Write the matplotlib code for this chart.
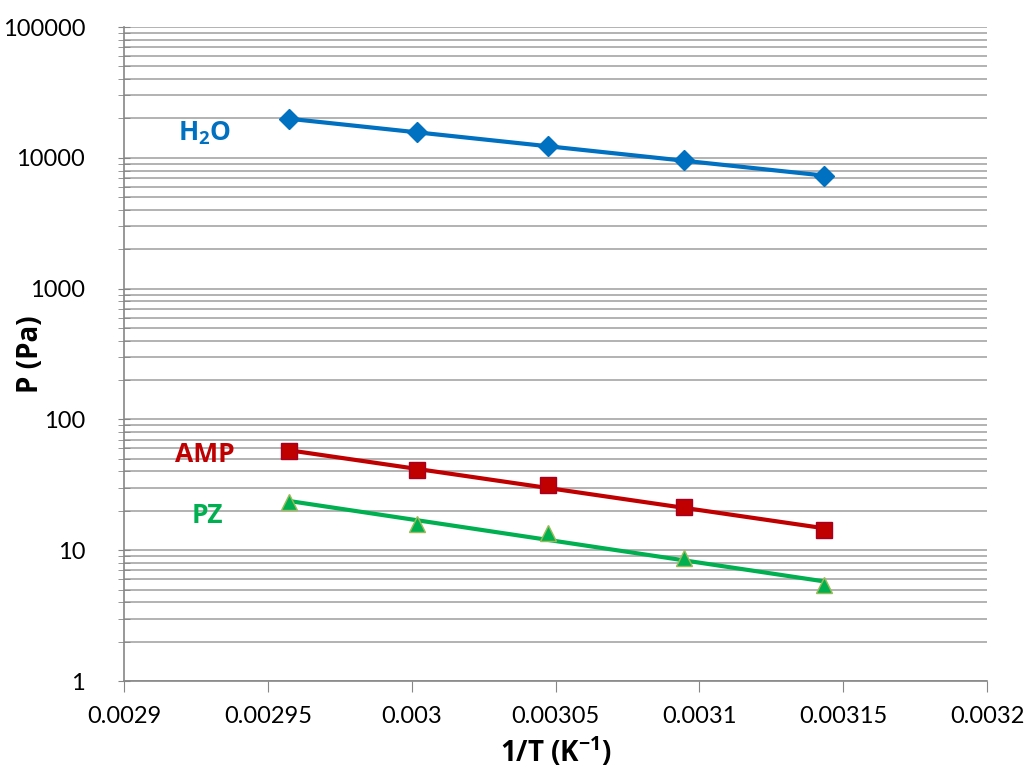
import numpy as np
import matplotlib
matplotlib.use('Agg')
import matplotlib.pyplot as plt
from matplotlib.ticker import FuncFormatter, LogLocator, FixedLocator

plt.rcParams['font.family'] = ['Lato', 'DejaVu Sans']
plt.rcParams['mathtext.fontset'] = 'custom'
plt.rcParams['mathtext.rm'] = 'Open Sans'
plt.rcParams['mathtext.bf'] = 'Open Sans:bold'
BOLD = ['Open Sans', 'DejaVu Sans']

# inverse temperature (1/K) for 65, 60, 55, 50, 45 degC
inv_T = [0.0029573, 0.0030017, 0.0030474, 0.0030945, 0.0031432]

# vapour pressures in Pa
p_h2o = [19800, 15700, 12300, 9600, 7260]
p_amp = [57.3, 41.0, 31.5, 21.4, 14.3]
p_pz = [23.4, 15.8, 13.5, 8.7, 5.4]

series = [
    (p_h2o, '#0070C0', 'D', '#0070C0', 10),
    (p_amp, '#C00000', 's', '#A50021', 11),
    (p_pz, '#00B050', '^', '#9BBB59', 11),
]

fig = plt.figure(figsize=(10.31, 7.79), dpi=100)
ax = fig.add_axes([0.1203, 0.1258, 0.8370, 0.8395])

x = np.array(inv_T)
for vals, color, marker, edge, ms in series:
    y = np.array(vals)
    # exponential trend line through the points
    k, b = np.polyfit(x, np.log(y), 1)
    xs = np.array([x.min(), x.max()])
    ax.plot(xs, np.exp(k * xs + b), color=color, lw=3, zorder=3, solid_capstyle='butt')
    ax.plot(x, y, linestyle='none', marker=marker, ms=ms, color=color,
            markeredgecolor=edge, markeredgewidth=1, zorder=4)

ax.text(0.002928, 15300, 'H$_\\mathbf{2}$O', color='#0070C0', fontsize=19, fontweight='bold',
        family=BOLD, ha='center', va='center')
ax.text(0.002928, 54, 'AMP', color='#C00000', fontsize=19, fontweight='bold',
        family=BOLD, ha='center', va='center')
ax.text(0.002929, 18.5, 'PZ', color='#00B050', fontsize=19, fontweight='bold',
        family=BOLD, ha='center', va='center')

ax.set_yscale('log')
ax.set_ylim(1, 100000)
ax.set_xlim(0.0029, 0.0032)

ax.yaxis.set_major_locator(LogLocator(base=10, numticks=10))
ax.yaxis.set_minor_locator(LogLocator(base=10, subs=np.arange(2, 10), numticks=10))
ax.yaxis.set_major_formatter(FuncFormatter(lambda v, p: f'{v:.0f}'))
ax.xaxis.set_major_locator(FixedLocator(np.arange(0.0029, 0.00321, 0.00005)))
ax.xaxis.set_major_formatter(FuncFormatter(lambda v, p: f'{v:g}'))

ax.grid(True, which='both', axis='y', color='#A6A6A6', lw=1.2)
ax.set_axisbelow(True)

for side in ['top', 'right']:
    ax.spines[side].set_visible(False)
for side in ['left', 'bottom']:
    ax.spines[side].set_color('#868686')
    ax.spines[side].set_linewidth(1.2)

ax.tick_params(axis='y', which='major', direction='inout', length=8, color='#868686',
               labelsize=17, pad=24)
ax.tick_params(axis='y', which='minor', direction='inout', length=8, color='#868686')
ax.tick_params(axis='x', which='major', direction='out', length=8, color='#868686',
               labelsize=17, pad=10)

ax.set_xlabel('1/T (K$^{\\mathbf{-1}}$)', fontsize=20, fontweight='bold', family=BOLD)
ax.set_ylabel('P (Pa)', fontsize=20, fontweight='bold', family=BOLD)
ax.xaxis.set_label_coords(0.5, -0.082)
ax.yaxis.set_label_coords(-0.0915, 0.5)

fig.savefig('out.png', dpi=100)
